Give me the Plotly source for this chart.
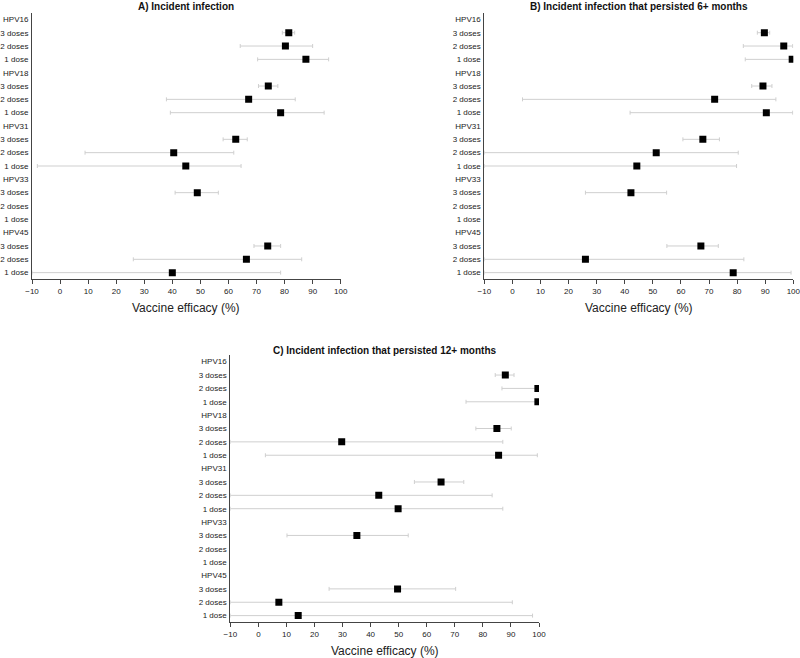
import plotly.graph_objects as go

rows = ["HPV16", "3 doses", "2 doses", "1 dose",
        "HPV18", "3 doses", "2 doses", "1 dose",
        "HPV31", "3 doses", "2 doses", "1 dose",
        "HPV33", "3 doses", "2 doses", "1 dose",
        "HPV45", "3 doses", "2 doses", "1 dose"]

A_est = [None, 81.5, 80.3, 87.6, None, 74.2, 67.2, 78.6, None, 62.6, 40.5, 44.8, None, 48.9, None, None, None, 74.0, 66.4, 40.0]
A_lo = [None, 79.2, 64.2, 70.4, None, 70.7, 37.9, 39.3, None, 58.1, 8.9, -8.1, None, 41.0, None, None, None, 69.1, 26.1, -10]
A_hi = [None, 83.6, 90.0, 95.7, None, 77.6, 83.8, 94.1, None, 66.7, 61.9, 64.5, None, 56.4, None, None, None, 78.6, 86.1, 78.6]

B_est = [None, 89.7, 96.6, 99.6, None, 89.2, 72.0, 90.4, None, 67.8, 51.2, 44.3, None, 42.2, None, None, None, 67.1, 26.0, 78.6]
B_lo = [None, 87.2, 82.2, 82.9, None, 85.2, 3.6, 41.9, None, 60.7, -10, -10, None, 26.0, None, None, None, 55.0, -10, -10]
B_hi = [None, 91.6, 99.8, 100, None, 92.4, 93.8, 99.8, None, 73.7, 80.4, 79.8, None, 54.9, None, None, None, 73.3, 82.4, 99.2]

C_est = [None, 88.0, 99.6, 99.6, None, 85.0, 29.7, 85.6, None, 65.1, 42.9, 49.8, None, 35.1, None, None, None, 49.6, 7.3, 14.2]
C_lo = [None, 84.4, 86.8, 74.0, None, 77.5, -10, 2.5, None, 55.6, -10, -10, None, 10.2, None, None, None, 25.2, -10, -10]
C_hi = [None, 91.1, 100, 100, None, 90.1, 87.1, 99.4, None, 73.2, 83.3, 87.1, None, 53.4, None, None, None, 70.3, 90.5, 97.7]

titles = ["A) Incident infection",
          "B) Incident infection that persisted 6+ months",
          "C) Incident infection that persisted 12+ months"]
x_ticks = [-10, 0, 10, 20, 30, 40, 50, 60, 70, 80, 90, 100]
x_title = "Vaccine efficacy (%)"

W, H = 800, 658
FONT = "Arial, Liberation Sans, sans-serif"

# pixel boxes in window coordinates (left, right, top, bottom)
boxes = [(32, 340.7, 12.7, 279.3),
         (484.3, 793.3, 12.7, 279.3),
         (230.3, 539.0, 355.0, 622.3)]
title_y = [6, 6, 350]
axtitle_y = [308, 308, 650.5]


def px(v):
    return v / W


def py(v):
    return 1 - v / H


fig = go.Figure()
data = [(A_est, A_lo, A_hi), (B_est, B_lo, B_hi), (C_est, C_lo, C_hi)]

for i, ((est, lo, hi), (l, r, t, b)) in enumerate(zip(data, boxes)):
    n = i + 1
    key = "" if n == 1 else str(n)
    xs, ys, ep, em = [], [], [], []
    for j, (e, a, c) in enumerate(zip(est, lo, hi)):
        if e is None:
            continue
        xs.append(e)
        ys.append(j)
        ep.append(c - e)
        em.append(e - a)
    fig.add_trace(go.Scatter(
        x=xs, y=ys, mode="markers",
        marker=dict(symbol="square", size=7, color="black"),
        error_x=dict(type="data", symmetric=False, array=ep, arrayminus=em,
                     color="#cfcfcf", thickness=1, width=2),
        xaxis=f"x{key}", yaxis=f"y{key}",
        showlegend=False, cliponaxis=True, hoverinfo="skip",
    ))
    xa = dict(domain=[px(l), px(r)], range=[-10, 100], tickvals=x_ticks,
              ticks="outside", ticklen=4, tickcolor="#444", showline=True,
              linecolor="#444", linewidth=1, showgrid=False, zeroline=False,
              tickfont=dict(size=8, color="#222", family=FONT),
              ticklabeloverflow="allow",
              anchor=f"y{key}", fixedrange=True, automargin=False)
    ya = dict(domain=[py(b), py(t)], range=[19.5, -0.5],
              tickvals=list(range(len(rows))), ticktext=rows,
              ticks="", showline=True, linecolor="#444", linewidth=1,
              showgrid=False, zeroline=False, ticklabelstandoff=1,
              ticklabeloverflow="allow",
              tickfont=dict(size=8, color="#222", family=FONT),
              anchor=f"x{key}", fixedrange=True, automargin=False)
    fig.layout[f"xaxis{key}"] = xa
    fig.layout[f"yaxis{key}"] = ya
    cx = px((l + r) / 2)
    fig.add_annotation(x=cx, y=py(title_y[i]), xref="paper", yref="paper",
                       text=f"<b>{titles[i]}</b>", showarrow=False,
                       xanchor="center", yanchor="middle",
                       font=dict(size=10, color="#111", family=FONT))
    fig.add_annotation(x=cx, y=py(axtitle_y[i]), xref="paper", yref="paper",
                       text=x_title, showarrow=False,
                       xanchor="center", yanchor="middle",
                       font=dict(size=12, color="#222", family=FONT))

fig.update_layout(width=W, height=H, margin=dict(l=0, r=0, t=0, b=0),
                  paper_bgcolor="white", plot_bgcolor="white",
                  font=dict(family=FONT))
fig.write_html("out.html", config={"displayModeBar": False},
               post_script="document.body.style.margin='0';"
                           "document.body.style.overflow='hidden';")
